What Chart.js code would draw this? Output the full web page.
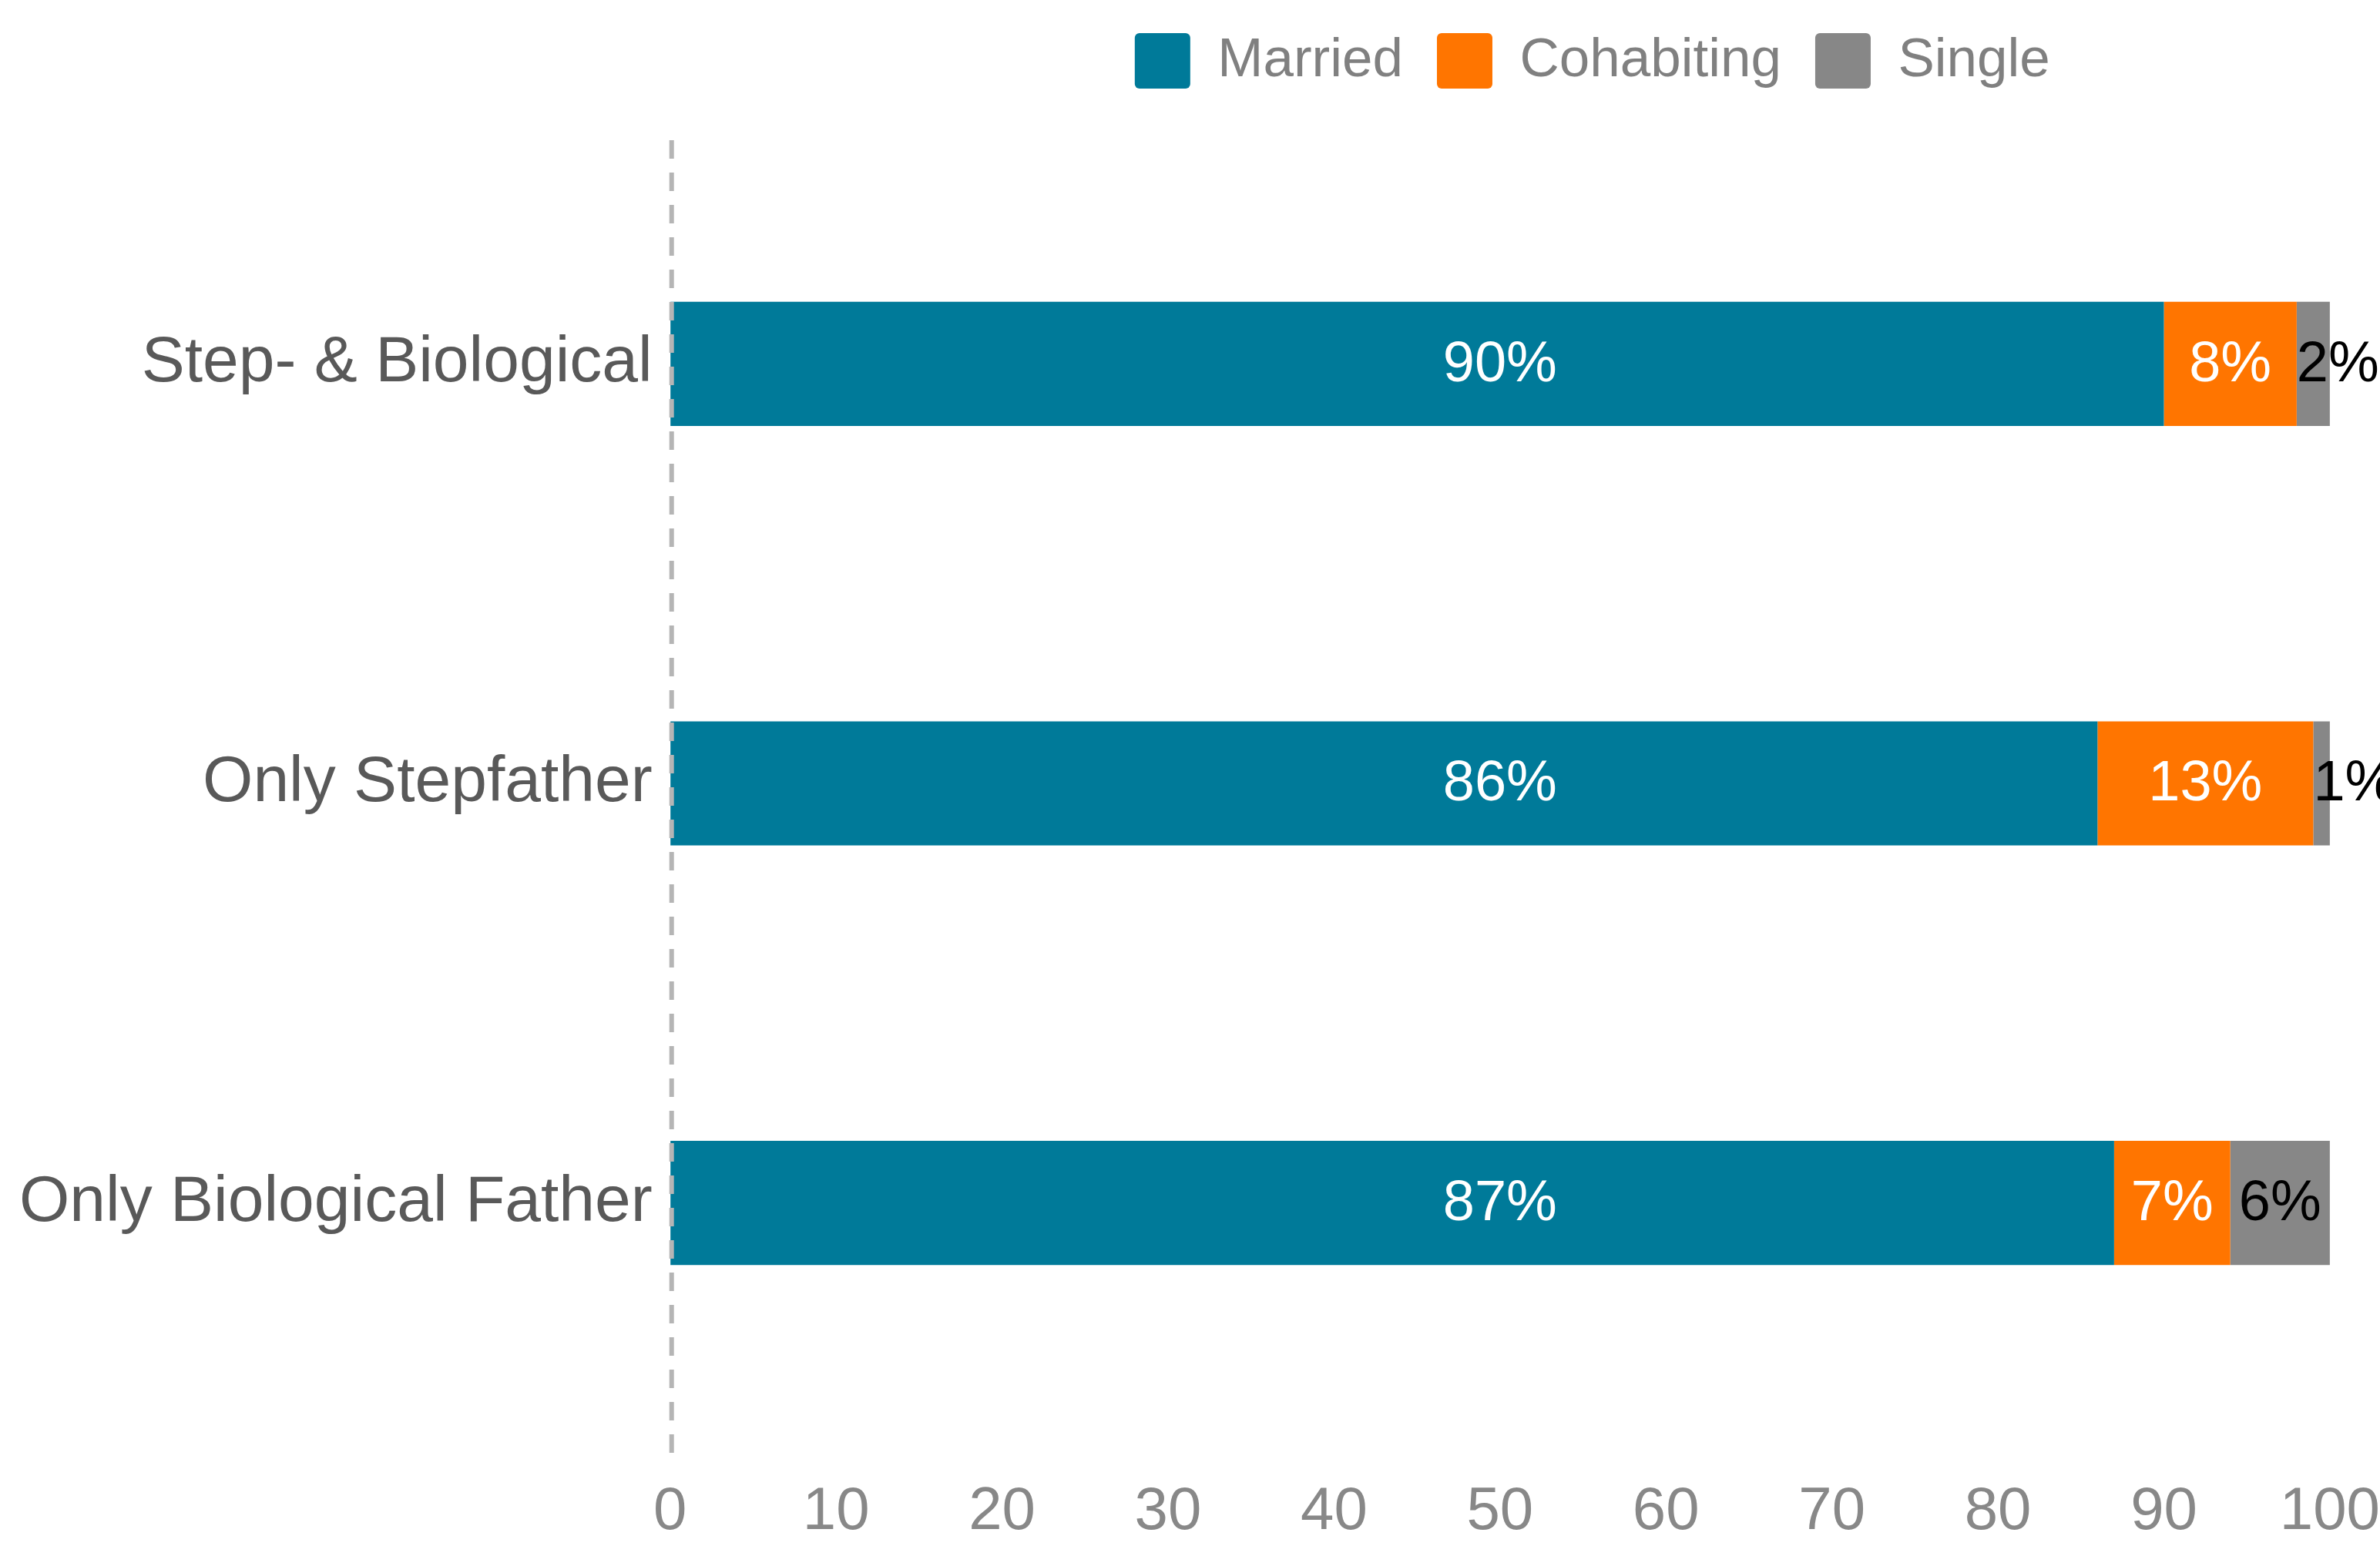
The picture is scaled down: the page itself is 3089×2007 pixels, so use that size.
<!DOCTYPE html>
<html>
<head>
<meta charset="utf-8">
<title>Family structure by union status</title>
<script src="https://cdn.jsdelivr.net/npm/chart.js"></script>
<style>
  html, body { margin: 0; padding: 0; background: #fff; }
  #wrap { width: 3089px; height: 2007px; }
</style>
</head>
<body>
<div id="wrap"><canvas id="chart"></canvas></div>
<script>
const categories = ["Step- & Biological", "Only Stepfather", "Only Biological Father"];
const married = [90, 86, 87];
const cohabiting = [8, 13, 7];
const single = [2, 1, 6];
const xTicks = [0, 10, 20, 30, 40, 50, 60, 70, 80, 90, 100];

const TEAL = "#007a99";
const ORANGE = "#ff7500";
const GREY = "#878787";

Chart.defaults.font.family = "'Liberation Sans', Arial, sans-serif";

// dashed zero line, drawn on top of the bars
const zeroLine = {
  id: "zeroLine",
  afterDatasetsDraw(chart) {
    const ctx = chart.ctx;
    const area = chart.chartArea;
    const x = chart.scales.x.getPixelForValue(0) + 2;
    ctx.save();
    ctx.strokeStyle = "#b5b5b5";
    ctx.lineWidth = 6;
    ctx.setLineDash([24, 18]);
    ctx.beginPath();
    ctx.moveTo(x, area.top - 18);
    ctx.lineTo(x, area.bottom + 56);
    ctx.stroke();
    ctx.restore();
  }
};

// percent labels on the segments
const segLabels = {
  id: "segLabels",
  afterDatasetsDraw(chart) {
    const ctx = chart.ctx;
    const xs = chart.scales.x;
    ctx.save();
    ctx.font = "74px 'Liberation Sans', Arial, sans-serif";
    ctx.textBaseline = "middle";
    ctx.textAlign = "center";
    chart.data.datasets.forEach((ds, i) => {
      const meta = chart.getDatasetMeta(i);
      meta.data.forEach((bar, j) => {
        const txt = ds.data[j] + "%";
        const w = ctx.measureText(txt).width;
        let x;
        if (i === 0) {
          let total = 0;
          chart.data.datasets.forEach(d => { total += d.data[j]; });
          x = xs.getPixelForValue(total / 2);
        } else {
          const left = Math.min(bar.x, bar.base);
          x = Math.max((bar.x + bar.base) / 2, left + w / 2);
        }
        ctx.fillStyle = i === 2 ? "#000000" : "#ffffff";
        ctx.fillText(txt, x, bar.y + 2);
      });
    });
    ctx.restore();
  }
};

// legend sits a bit right of the plot centre in the original
const legendShift = {
  id: "legendShift",
  afterLayout(chart) {
    chart.legend.left += 120;
    chart.legend.right += 120;
  }
};

const ctx = document.getElementById("chart").getContext("2d");
new Chart(ctx, {
  type: "bar",
  data: {
    labels: categories,
    datasets: [
      { label: "Married", data: married, backgroundColor: TEAL },
      { label: "Cohabiting", data: cohabiting, backgroundColor: ORANGE },
      { label: "Single", data: single, backgroundColor: GREY }
    ]
  },
  options: {
    indexAxis: "y",
    responsive: true,
    maintainAspectRatio: false,
    devicePixelRatio: 1,
    animation: false,
    datasets: {
      bar: { categoryPercentage: 1, barPercentage: 0.296, borderWidth: 0 }
    },
    layout: { padding: { top: -1, left: 25, right: 0, bottom: 5 } },
    scales: {
      x: {
        stacked: true,
        min: 0,
        max: 100,
        afterBuildTicks: (axis) => { axis.ticks = xTicks.map(v => ({ value: v })); },
        grid: { display: true, drawOnChartArea: false, drawTicks: true, tickLength: 90, color: "rgba(0,0,0,0)" },
        border: { display: false },
        ticks: { color: "#888888", padding: 0, font: { size: 78, lineHeight: 1 }, maxRotation: 0 }
      },
      y: {
        stacked: true,
        grid: { display: true, drawOnChartArea: false, drawTicks: true, tickLength: 23, color: "rgba(0,0,0,0)" },
        border: { display: false },
        ticks: { color: "#595959", padding: 0, font: { size: 84 } }
      }
    },
    plugins: {
      tooltip: { enabled: false },
      legend: {
        position: "top",
        align: "center",
        fullSize: false,
        labels: {
          color: "#808080",
          font: { size: 71 },
          boxWidth: 72,
          boxHeight: 72,
          padding: 44,
          useBorderRadius: true,
          borderRadius: 6
        }
      },
      // blank spacer between legend and plot
      subtitle: {
        display: true,
        text: "",
        weight: 500,
        padding: 0,
        font: { size: 75, lineHeight: 1 }
      }
    }
  },
  plugins: [zeroLine, segLabels, legendShift]
});
</script>
</body>
</html>
